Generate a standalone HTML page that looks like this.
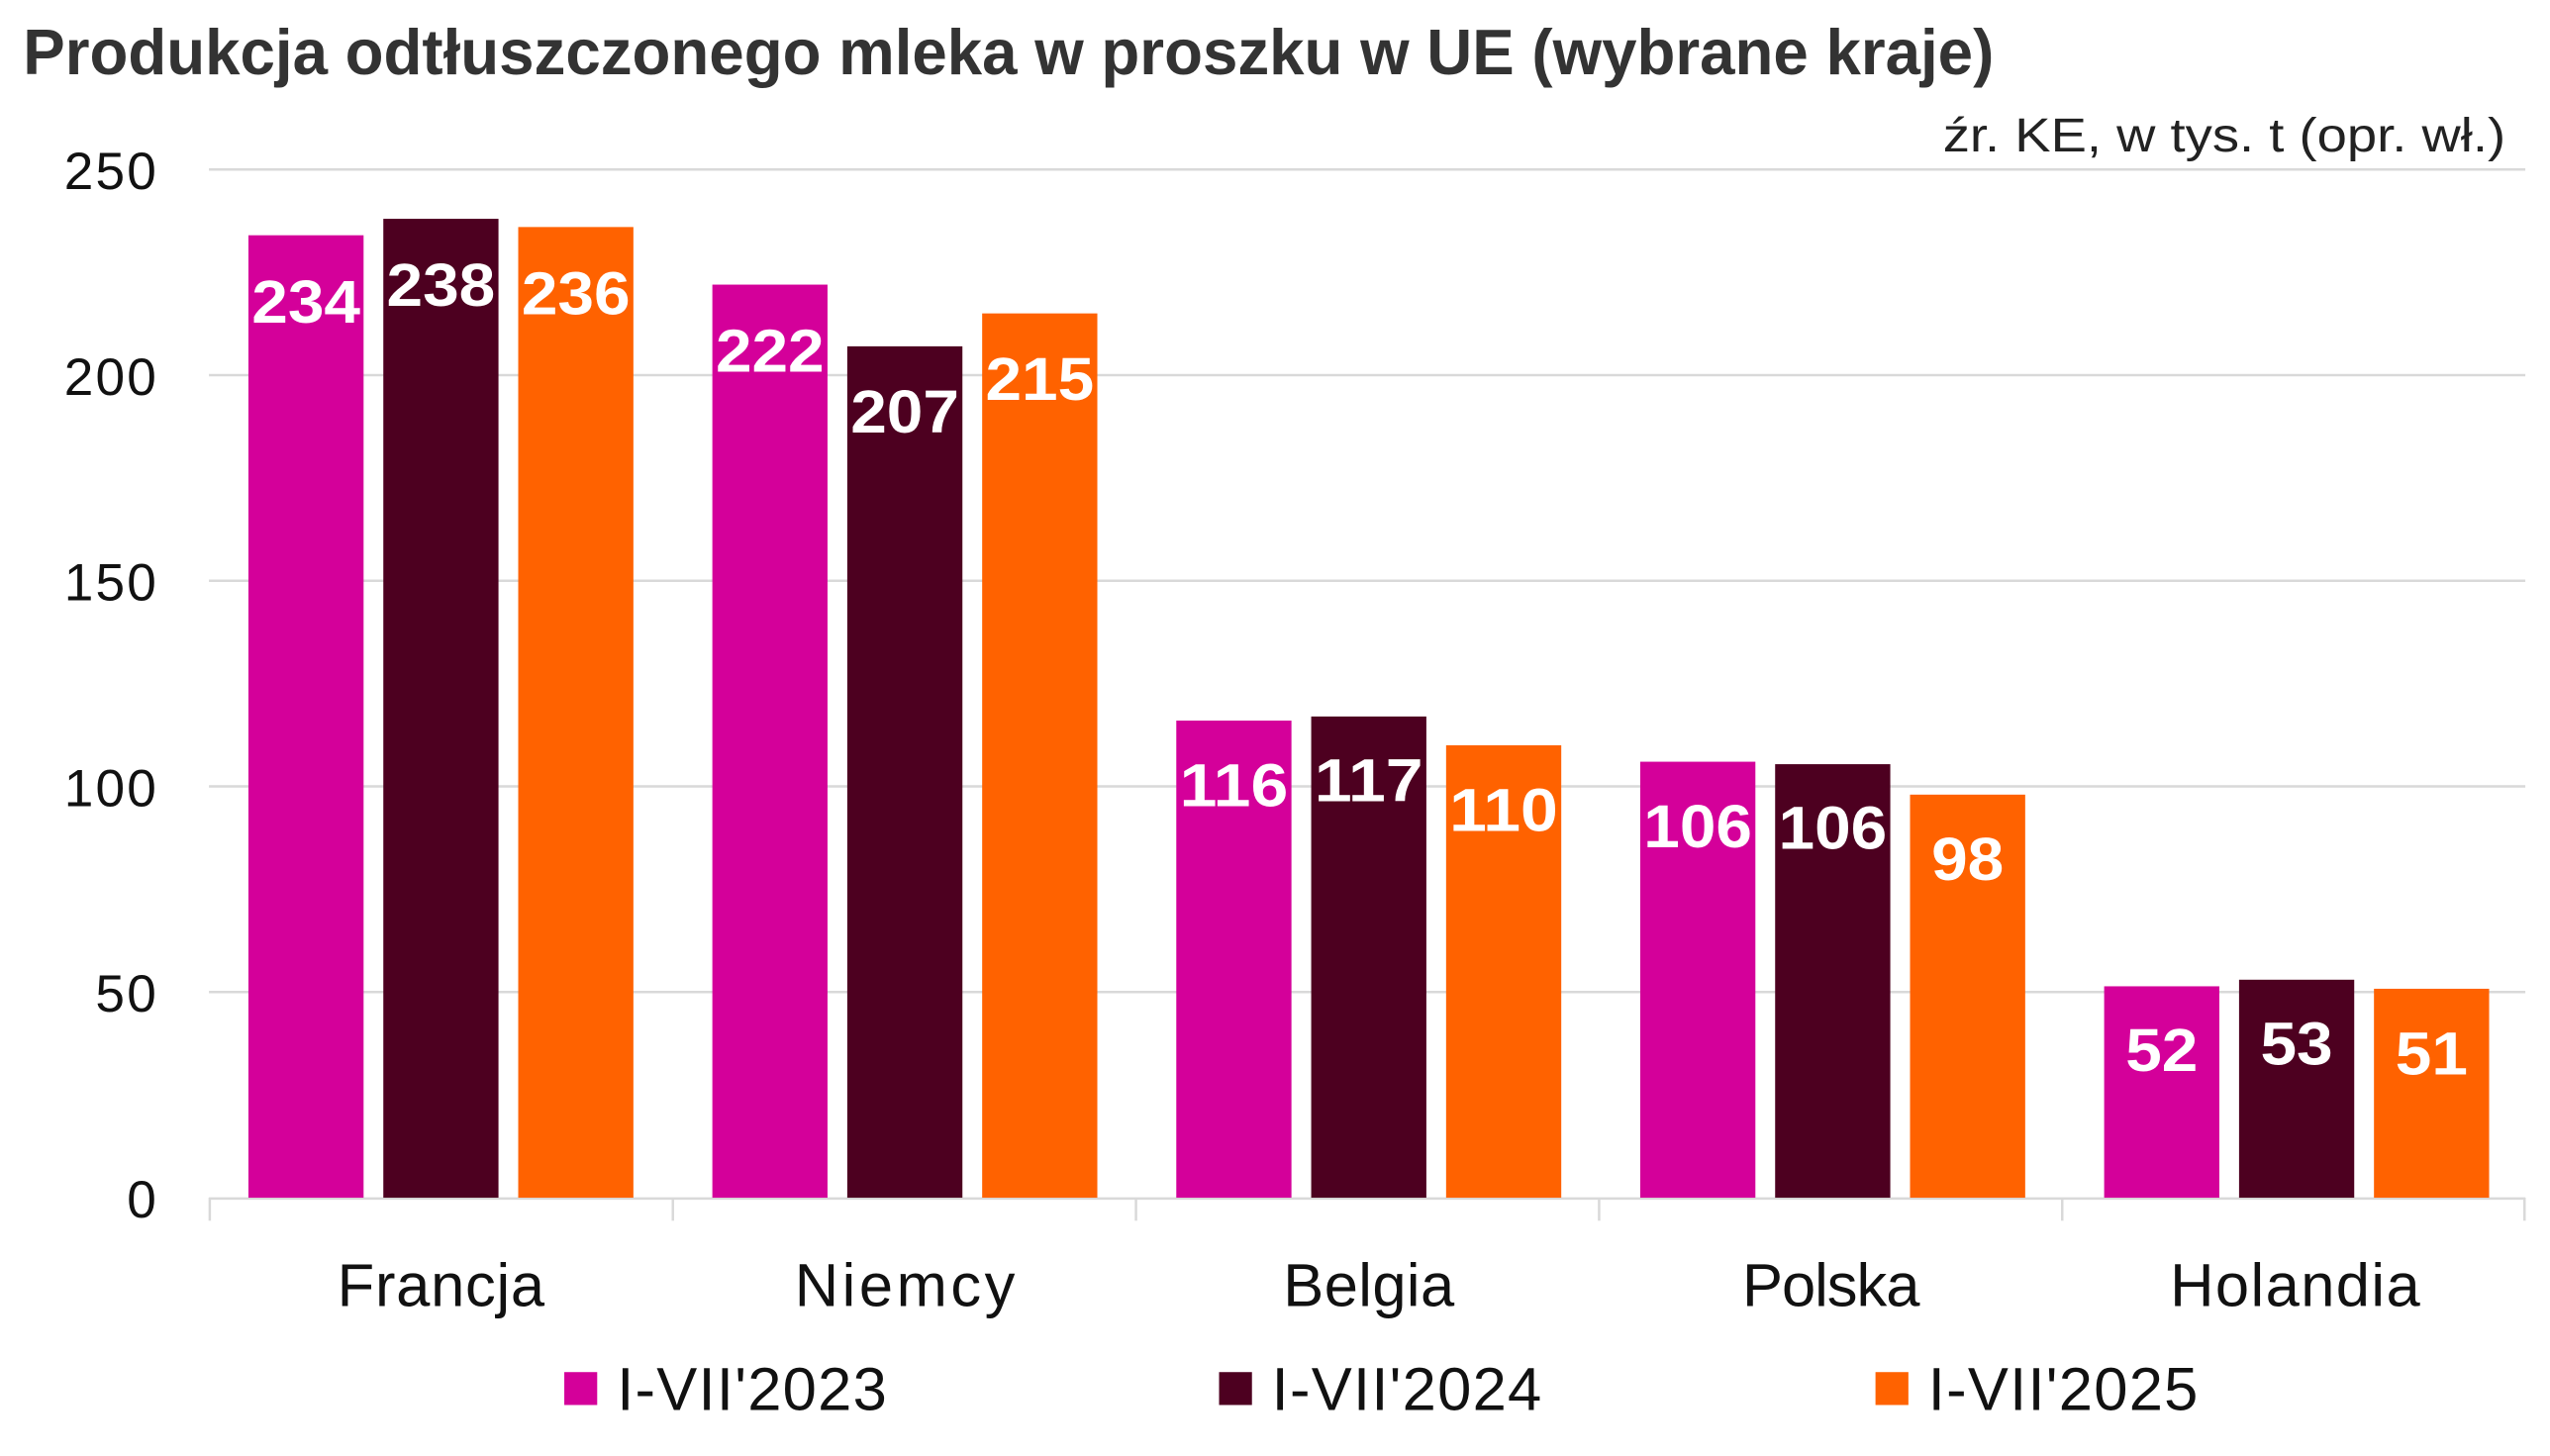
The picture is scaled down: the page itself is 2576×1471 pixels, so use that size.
<!DOCTYPE html>
<html><head><meta charset="utf-8"><style>
html,body{margin:0;padding:0;background:#fff}
svg{display:block}
text{font-family:"Liberation Sans",sans-serif}
</style></head><body>
<svg width="2576" height="1471" viewBox="0 0 1550 885" preserveAspectRatio="none" xmlns="http://www.w3.org/2000/svg">
<text x="14" y="45" font-size="39" font-weight="bold" fill="#333" textLength="1198" lengthAdjust="spacingAndGlyphs">Produkcja odtłuszczonego mleka w proszku w UE (wybrane kraje)</text>
<text x="1523" y="92" font-size="29" fill="#222" text-anchor="end" textLength="342" lengthAdjust="spacingAndGlyphs">źr. KE, w tys. t (opr. wł.)</text>
<g stroke="#d9d9d9" stroke-width="1.5">
<line x1="127" y1="103" x2="1535" y2="103"/>
<line x1="127" y1="228" x2="1535" y2="228"/>
<line x1="127" y1="353" x2="1535" y2="353"/>
<line x1="127" y1="478" x2="1535" y2="478"/>
<line x1="127" y1="603" x2="1535" y2="603"/>
<line x1="127" y1="728.5" x2="1535" y2="728.5"/>
<line x1="127.5" y1="728" x2="127.5" y2="742"/>
<line x1="409" y1="728" x2="409" y2="742"/>
<line x1="690.5" y1="728" x2="690.5" y2="742"/>
<line x1="972" y1="728" x2="972" y2="742"/>
<line x1="1253.5" y1="728" x2="1253.5" y2="742"/>
<line x1="1534.5" y1="728" x2="1534.5" y2="742"/>
</g>
<g font-size="32" fill="#111" text-anchor="end" lengthAdjust="spacingAndGlyphs">
<text x="95" y="115" textLength="56">250</text>
<text x="95" y="240" textLength="56">200</text>
<text x="95" y="365" textLength="56">150</text>
<text x="95" y="490" textLength="56">100</text>
<text x="95" y="615" textLength="37">50</text>
<text x="95" y="740" textLength="18">0</text>
</g>
<g font-size="37" fill="#fff" font-weight="bold" text-anchor="middle">
<rect x="151" y="143" width="70" height="585" fill="#D4009A"/><text x="186" y="196" textLength="66" lengthAdjust="spacingAndGlyphs">234</text>
<rect x="233" y="133" width="70" height="595" fill="#4D0020"/><text x="268" y="186" textLength="66" lengthAdjust="spacingAndGlyphs">238</text>
<rect x="315" y="138" width="70" height="590" fill="#FF6200"/><text x="350" y="191" textLength="66" lengthAdjust="spacingAndGlyphs">236</text>
<rect x="433" y="173" width="70" height="555" fill="#D4009A"/><text x="468" y="226" textLength="66" lengthAdjust="spacingAndGlyphs">222</text>
<rect x="515" y="210.5" width="70" height="517.5" fill="#4D0020"/><text x="550" y="263" textLength="66" lengthAdjust="spacingAndGlyphs">207</text>
<rect x="597" y="190.5" width="70" height="537.5" fill="#FF6200"/><text x="632" y="243" textLength="66" lengthAdjust="spacingAndGlyphs">215</text>
<rect x="715" y="438" width="70" height="290" fill="#D4009A"/><text x="750" y="490" textLength="66" lengthAdjust="spacingAndGlyphs">116</text>
<rect x="797" y="435.5" width="70" height="292.5" fill="#4D0020"/><text x="832" y="487" textLength="66" lengthAdjust="spacingAndGlyphs">117</text>
<rect x="879" y="453" width="70" height="275" fill="#FF6200"/><text x="914" y="505" textLength="66" lengthAdjust="spacingAndGlyphs">110</text>
<rect x="997" y="463" width="70" height="265" fill="#D4009A"/><text x="1032" y="515" textLength="66" lengthAdjust="spacingAndGlyphs">106</text>
<rect x="1079" y="464.5" width="70" height="263.5" fill="#4D0020"/><text x="1114" y="516" textLength="66" lengthAdjust="spacingAndGlyphs">106</text>
<rect x="1161" y="483" width="70" height="245" fill="#FF6200"/><text x="1196" y="535" textLength="44" lengthAdjust="spacingAndGlyphs">98</text>
<rect x="1279" y="599.5" width="70" height="128.5" fill="#D4009A"/><text x="1314" y="651" textLength="44" lengthAdjust="spacingAndGlyphs">52</text>
<rect x="1361" y="595.5" width="70" height="132.5" fill="#4D0020"/><text x="1396" y="647" textLength="44" lengthAdjust="spacingAndGlyphs">53</text>
<rect x="1443" y="601" width="70" height="127" fill="#FF6200"/><text x="1478" y="653" textLength="44" lengthAdjust="spacingAndGlyphs">51</text>
</g>
<g font-size="37" fill="#111" text-anchor="middle" lengthAdjust="spacingAndGlyphs">
<text x="268" y="794" textLength="126">Francja</text>
<text x="550" y="794" textLength="134">Niemcy</text>
<text x="832" y="794" textLength="104">Belgia</text>
<text x="1113" y="794" textLength="108">Polska</text>
<text x="1395" y="794" textLength="152">Holandia</text>
</g>
<rect x="343" y="834" width="20" height="20" fill="#D4009A"/>
<rect x="741" y="834" width="20" height="20" fill="#4D0020"/>
<rect x="1140" y="834" width="20" height="20" fill="#FF6200"/>
<g font-size="37" fill="#111" lengthAdjust="spacingAndGlyphs">
<text x="375" y="857" textLength="164">I-VII'2023</text>
<text x="773" y="857" textLength="164">I-VII'2024</text>
<text x="1172" y="857" textLength="164">I-VII'2025</text>
</g>
</svg>
</body></html>
